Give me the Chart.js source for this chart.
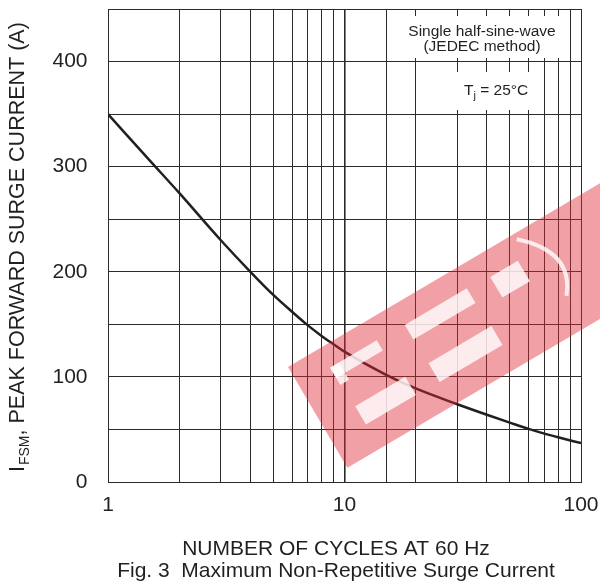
<!DOCTYPE html>
<html>
<head>
<meta charset="utf-8">
<script src="https://cdn.jsdelivr.net/npm/chart.js@4"></script>
<style>
  html, body { margin: 0; padding: 0; background: #fff; }
  #wrap { width: 600px; height: 586px; }
</style>
</head>
<body>
<div id="wrap"><canvas id="myChart"></canvas></div>
<script>
// values
const cycles = [1, 1.5, 2, 3, 4, 5, 6, 7, 8, 9, 10, 15, 20, 30, 40, 50, 60, 70, 80, 100];
const surge = [350, 306, 275, 230, 200, 178, 162, 149, 139, 131, 124, 102, 89, 74, 64, 56.5, 50.5, 46, 42.5, 37];
const xLabels = [1, 10, 100];
const yLabels = [0, 100, 200, 300, 400];

const FONT = '"Liberation Sans", Arial, sans-serif';
const ink = '#231f20';

// axis titles, notes and the watermark
const extras = {
  id: 'extras',
  afterDraw(chart) {
    const ctx = chart.ctx;
    ctx.save();

    // watermark: tilted red band with white cut-outs
    ctx.save();
    ctx.translate(288, 367);
    ctx.rotate(-30.5 * Math.PI / 180);
    ctx.globalAlpha = 0.44;
    ctx.fillStyle = '#de2834';
    ctx.fillRect(0, 0, 400, 117);
    ctx.globalAlpha = 0.8;
    ctx.fillStyle = '#fff';
    ctx.fillRect(36, 22, 54, 12);
    ctx.fillRect(36, 22, 10, 20);
    ctx.fillRect(38, 68, 58, 21);
    ctx.fillRect(122, 23, 72, 17);
    ctx.fillRect(123, 68, 73, 22);
    ctx.fillRect(220, 25, 32, 24);
    ctx.lineWidth = 4;
    ctx.strokeStyle = '#fff';
    ctx.beginPath();
    ctx.moveTo(262, 6);
    ctx.quadraticCurveTo(305, 45, 276, 80);
    ctx.stroke();
    ctx.restore();

    ctx.fillStyle = ink;

    // y title, rotated, with subscript
    ctx.save();
    ctx.translate(23.5, 472);
    ctx.rotate(-Math.PI / 2);
    ctx.textBaseline = 'alphabetic';
    ctx.textAlign = 'left';
    ctx.font = '21.5px ' + FONT;
    let x = 0;
    ctx.fillText('I', x, 0);
    x += ctx.measureText('I').width + 1;
    ctx.font = '14px ' + FONT;
    ctx.fillText('FSM', x, 5);
    x += ctx.measureText('FSM').width;
    ctx.font = '21.5px ' + FONT;
    ctx.fillText(', PEAK FORWARD SURGE CURRENT (A)', x, 0);
    ctx.restore();

    // x title + caption
    ctx.textAlign = 'center';
    ctx.font = '21px ' + FONT;
    ctx.fillText('NUMBER OF CYCLES AT 60 Hz', 336, 555);
    ctx.fillText('Fig. 3  Maximum Non-Repetitive Surge Current', 336, 577);

    // notes
    ctx.font = '15.5px ' + FONT;
    ctx.fillText('Single half-sine-wave', 482, 35.5);
    ctx.fillText('(JEDEC method)', 482, 51);

    ctx.textAlign = 'left';
    let tx = 464;
    ctx.fillText('T', tx, 95);
    tx += ctx.measureText('T').width;
    ctx.font = '11px ' + FONT;
    ctx.fillText('j', tx, 99);
    tx += ctx.measureText('j').width;
    ctx.font = '15.5px ' + FONT;
    ctx.fillText(' = 25\u00b0C', tx, 95);

    ctx.restore();
  },
  beforeDatasetsDraw(chart) {
    // white boxes behind the notes
    const ctx = chart.ctx;
    ctx.save();
    ctx.fillStyle = '#fff';
    ctx.fillRect(402, 16, 157, 42);
    ctx.fillRect(426, 72, 118, 38);
    ctx.restore();
  }
};

const ctx = document.getElementById('myChart').getContext('2d');
const surgeChart = new Chart(ctx, {
  type: 'line',
  data: {
    datasets: [{
      data: cycles.map((c, i) => ({ x: c, y: surge[i] })),
      borderColor: ink,
      borderWidth: 2.5,
      pointRadius: 0,
      fill: false,
      cubicInterpolationMode: 'monotone'
    }]
  },
  options: {
    responsive: true,
    maintainAspectRatio: false,
    animation: false,
    layout: { padding: { top: 9, right: 19, left: 0, bottom: 0 } },
    plugins: { legend: { display: false }, tooltip: { enabled: false } },
    scales: {
      x: {
        type: 'logarithmic',
        min: 1,
        max: 100,
        afterFit(scale) {
          scale.height = 104;
          scale.paddingLeft = 0;
          scale.paddingRight = 0;
        },
        grid: {
          color: '#2b2b2b',
          lineWidth: c => (c.tick && c.tick.value === 10 ? 1.6 : 1),
          drawTicks: false
        },
        border: { color: '#2b2b2b', width: 1 },
        ticks: {
          autoSkip: false,
          maxRotation: 0,
          padding: 11,
          color: ink,
          font: { family: FONT, size: 21 },
          callback: v => (xLabels.includes(v) ? String(v) : '')
        }
      },
      y: {
        min: 0,
        max: 450,
        afterFit(scale) {
          scale.width = 108;
          scale.paddingTop = 0;
          scale.paddingBottom = 0;
        },
        grid: { color: '#2b2b2b', lineWidth: 1, drawTicks: false },
        border: { color: '#2b2b2b', width: 1 },
        ticks: {
          stepSize: 50,
          padding: 20.5,
          color: ink,
          font: { family: FONT, size: 21 },
          callback: v => (yLabels.includes(v) ? String(v) : '')
        }
      }
    }
  },
  plugins: [extras]
});
</script>
</body>
</html>
